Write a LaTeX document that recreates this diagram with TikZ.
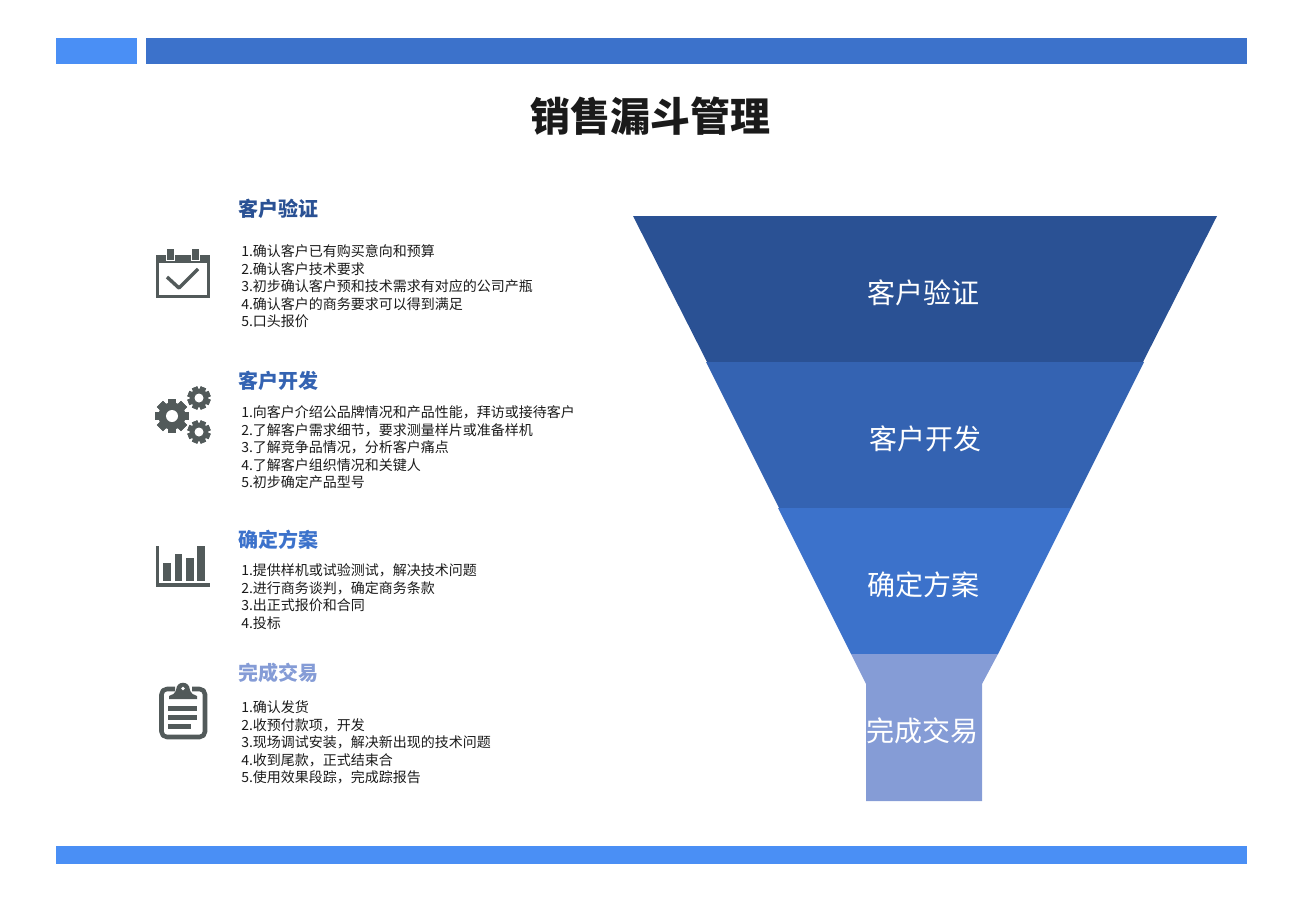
\documentclass[tikz,border=0pt]{standalone}
\usepackage{fontspec}
\setmainfont{Noto Sans CJK SC}
\definecolor{barlight}{HTML}{4A8FF5}
\definecolor{levelA}{HTML}{2A5194}
\definecolor{levelB}{HTML}{3463B2}
\definecolor{levelC}{HTML}{3C72CB}
\definecolor{levelD}{HTML}{859CD6}
\definecolor{icongray}{HTML}{525A5A}
\definecolor{inktext}{HTML}{1A1A1A}
\tikzset{
	heading/.style={anchor=west,inner sep=0pt,font=\fontsize{15}{18}\selectfont\bfseries},
	bodytext/.style={anchor=north west,inner sep=0pt,align=left,text=inktext,font=\fontsize{10.5}{13.1}\selectfont},
	funnellabel/.style={text=white,inner sep=0pt,font=\fontsize{21}{25}\selectfont}
}
\newcommand{\gearicon}[5]{% centre x, y, outer radius, hole radius, tooth offset
	\foreach \a in {0,45,...,315}{
		\fill[icongray,rotate around={\a+#5:(#1,#2)}] (#1-#3*0.25,#2-#3) rectangle (#1+#3*0.25,#2+#3);
	}
	\fill[icongray] (#1,#2) circle ({#3*0.8});
	\fill[white] (#1,#2) circle (#4);
}
\begin{document}
\begin{tikzpicture}[x=0.75pt,y=-0.75pt,line join=round]
	\useasboundingbox (0,0) rectangle (1302,899);
	% bars
	\fill[barlight] (56,38) rectangle (137,64);
	\fill[levelC] (146,38) rectangle (1247,64);
	\fill[barlight] (56,846) rectangle (1247,864);
	\node[text=inktext,inner sep=0pt,font=\fontsize{30}{36}\selectfont\bfseries] (title) at (650,116) {销售漏斗管理};
	% funnel
	\fill[levelA] (633,216)--(1217,216)--(1143,362)--(707,362)--cycle;
	\fill[levelB] (706,362)--(1144,362)--(1071,508)--(779,508)--cycle;
	\fill[levelC] (778,508)--(1071,508)--(998,654)--(851,654)--cycle;
	\fill[levelD] (851,654)--(998,654)--(982,684)--(982,801)--(866,801)--(866,684)--cycle;
	\node[funnellabel] (funnelA) at (923,293) {客户验证};
	\node[funnellabel] (funnelB) at (925,439) {客户开发};
	\node[funnellabel] (funnelC) at (923,585) {确定方案};
	\node[funnellabel] (funnelD) at (922,731) {完成交易};
	% left column
	\node[heading,text=levelA] (headA) at (238,209) {客户验证};
	\node[bodytext] (bodyA) at (241,244.5) {1.确认客户已有购买意向和预算\\2.确认客户技术要求\\3.初步确认客户预和技术需求有对应的公司产瓶\\4.确认客户的商务要求可以得到满足\\5.口头报价};
	\node[heading,text=levelB] (headB) at (238,381) {客户开发};
	\node[bodytext] (bodyB) at (241,405.5) {1.向客户介绍公品牌情况和产品性能，拜访或接待客户\\2.了解客户需求细节，要求测量样片或准备样机\\3.了解竞争品情况，分析客户痛点\\4.了解客户组织情况和关键人\\5.初步确定产品型号};
	\node[heading,text=levelC] (headC) at (238,540) {确定方案};
	\node[bodytext] (bodyC) at (241,563.5) {1.提供样机或试验测试，解决技术问题\\2.进行商务谈判，确定商务条款\\3.出正式报价和合同\\4.投标};
	\node[heading,text=levelD] (headD) at (238,673) {完成交易};
	\node[bodytext] (bodyD) at (241,700.5) {1.确认发货\\2.收预付款项，开发\\3.现场调试安装，解决新出现的技术问题\\4.收到尾款，正式结束合\\5.使用效果段踪，完成踪报告};
	% calendar
	\fill[icongray] (156,255) rectangle (210,298);
	\fill[white] (159,263) rectangle (207,295);
	\foreach \x in {167,192}{
		\fill[white] (\x-1,249) rectangle (\x+8,261);
		\fill[icongray] (\x,249) rectangle (\x+7,260);
	}
	\draw[icongray,line width=2.6pt] (167,277)--(179,288)--(198,269);
	% gears
	\gearicon{172}{416}{17}{6}{0}
	\gearicon{199}{398}{11.5}{4.5}{22.5}
	\gearicon{199}{432}{11.5}{4.5}{22.5}
	% chart
	\fill[icongray] (156,546) rectangle (159,587);
	\fill[icongray] (156,583) rectangle (210,587);
	\fill[icongray] (163,563) rectangle (171,581);
	\fill[icongray] (175,554) rectangle (182,581);
	\fill[icongray] (186,558) rectangle (194,581);
	\fill[icongray] (197,546) rectangle (205,581);
	% clipboard
	\draw[icongray,line width=3.4pt,rounded corners=4pt] (175,689)--(161.5,689)--(161.5,737)--(205,737)--(205,689)--(192,689);
	\fill[icongray] (169,699)--(169,696) .. controls (172,695) and (175,694) .. (176.5,689)--(189.5,689) .. controls (191,694) and (194,695) .. (197,696)--(197,699)--cycle;
	\fill[icongray] (183,689.5) circle (6.8);
	\fill[white] (183,688.5) circle (1.8);
	\fill[icongray] (168,706) rectangle (197,711);
	\fill[icongray] (168,714.5) rectangle (197,720);
	\fill[icongray] (168,723.5) rectangle (191,729);
\end{tikzpicture}
\end{document}
